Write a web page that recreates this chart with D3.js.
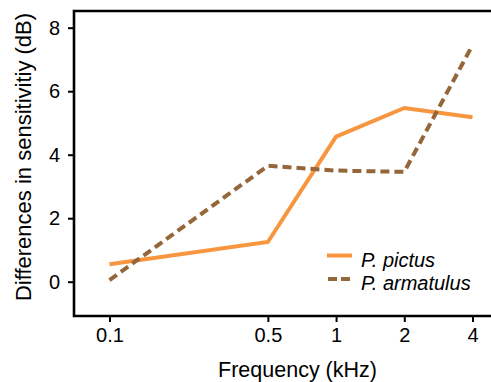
<!DOCTYPE html>
<html>
<head>
<meta charset="utf-8">
<script src="https://cdn.jsdelivr.net/npm/d3@7"></script>
<style>
  body { margin: 0; background: #fff; }
  svg { display: block; font-family: "Liberation Sans", Arial, sans-serif; }
</style>
</head>
<body>
<svg width="491" height="382"></svg>
<script>
"use strict";

// frequencies (kHz) and sensitivity differences (dB)
const freqs = [0.1, 0.5, 1, 2, 4];
const pictus = [0.55, 1.25, 4.57, 5.47, 5.18];
const armatulus = [0.05, 3.65, 3.5, 3.46, 7.45];
const xTicks = [0.1, 0.5, 1, 2, 4];
const yTicks = [0, 2, 4, 6, 8];

const svg = d3.select("svg");

// scales: x is log, fitted to where the ticks sit in the picture
const xScale = d3.scaleLog().domain([0.1, 4]).range([109.5, 472.5]);
const yScale = d3.scaleLinear().domain([0, 8]).range([281.7, 27.7]);

const frameL = 74, frameT = 11, frameB = 316, frameR = 495;

// frame: left, top and bottom lines (right side is cut off)
svg.append("path")
  .attr("d", `M${frameR},${frameT} H${frameL} V${frameB} H${frameR}`)
  .attr("fill", "none")
  .attr("stroke", "#000")
  .attr("stroke-width", 2.6);

// y axis
const yAxis = d3.axisLeft(yScale).tickValues(yTicks).tickSize(6).tickPadding(8);
const yG = svg.append("g").attr("transform", `translate(${frameL},0)`).call(yAxis);
yG.attr("font-family", null).attr("font-size", 20);
yG.select(".domain").remove();
yG.selectAll("line").attr("stroke-width", 2);
yG.selectAll("text").attr("fill", "#000");

// x axis
const xAxis = d3.axisBottom(xScale).tickValues(xTicks).tickFormat(d3.format("")).tickSize(6).tickPadding(6);
const xG = svg.append("g").attr("transform", `translate(0,${frameB})`).call(xAxis);
xG.attr("font-family", null).attr("font-size", 20);
xG.select(".domain").remove();
xG.selectAll("line").attr("stroke-width", 2);
xG.selectAll("text").attr("fill", "#000");

// axis titles
svg.append("text")
  .attr("x", 297.5).attr("y", 377)
  .attr("text-anchor", "middle")
  .attr("font-size", 21.5)
  .text("Frequency (kHz)");

svg.append("text")
  .attr("transform", "translate(31,157) rotate(-90)")
  .attr("text-anchor", "middle")
  .attr("font-size", 22)
  .text("Differences in sensitivitiy (dB)");

// lines
const line = d3.line()
  .x((d, i) => xScale(freqs[i]))
  .y(d => yScale(d));

svg.append("path")
  .attr("d", line(pictus))
  .attr("fill", "none")
  .attr("stroke", "#F7963F")
  .attr("stroke-width", 4);

svg.append("path")
  .attr("d", line(armatulus))
  .attr("fill", "none")
  .attr("stroke", "#946639")
  .attr("stroke-width", 4)
  .attr("stroke-dasharray", "9,5");

// legend
const legend = svg.append("g");
legend.append("line")
  .attr("x1", 327).attr("x2", 352).attr("y1", 255.5).attr("y2", 255.5)
  .attr("stroke", "#F7963F").attr("stroke-width", 4);
legend.append("line")
  .attr("x1", 328).attr("x2", 352).attr("y1", 279).attr("y2", 279)
  .attr("stroke", "#946639").attr("stroke-width", 4)
  .attr("stroke-dasharray", "9,4");
legend.append("text")
  .attr("x", 361).attr("y", 266.5)
  .attr("font-size", 20).attr("font-style", "italic")
  .text("P. pictus");
legend.append("text")
  .attr("x", 361).attr("y", 290)
  .attr("font-size", 20).attr("font-style", "italic")
  .text("P. armatulus");
</script>
</body>
</html>
